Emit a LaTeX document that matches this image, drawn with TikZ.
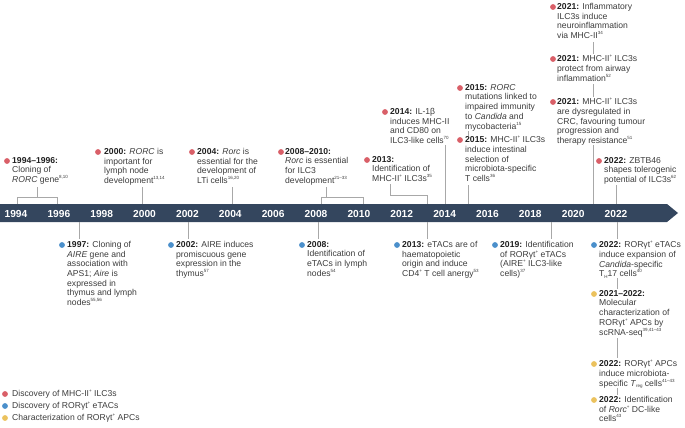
\documentclass[tikz,border=0pt]{standalone}
\usepackage{fontspec}
\setmainfont{Liberation Sans}
\definecolor{barc}{HTML}{34465E}
\definecolor{redd}{HTML}{D95F68}
\definecolor{blued}{HTML}{4A8FCB}
\definecolor{yeld}{HTML}{EBC25E}
\definecolor{linec}{HTML}{A8A8A8}
\definecolor{txtc}{HTML}{3C3C3C}
\definecolor{yrc}{HTML}{202020}
\newcommand{\rf}[1]{\raisebox{0.85ex}{\fontsize{4.5}{5}\selectfont #1}}
\newcommand{\rb}[1]{\raisebox{-0.35ex}{\fontsize{4.5}{5}\selectfont #1}}
\newcommand{\yr}[1]{\textbf{\color{yrc}#1}}
\begin{document}
\begin{tikzpicture}[x=1pt,y=-1pt,
  txt/.style={anchor=north west, inner sep=0pt, align=left, font=\fontsize{8.6}{9.7}\selectfont, text=txtc},
  legtxt/.style={anchor=west, inner sep=0pt, font=\fontsize{8.6}{9.7}\selectfont, text=txtc},
  yearlab/.style={font=\fontsize{10.2}{11}\selectfont\bfseries, text=white, inner sep=0pt},
  rdot/.style={circle, fill=redd, inner sep=0pt, minimum size=5.8pt},
  bdot/.style={circle, fill=blued, inner sep=0pt, minimum size=5.8pt},
  ydot/.style={circle, fill=yeld, inner sep=0pt, minimum size=5.8pt},
  conn/.style={draw=linec, line width=0.6pt}]
\useasboundingbox (0,0) rectangle (685,428);
% timeline bar
\fill[barc] (0,204) -- (667,204) -- (678,213) -- (667,222) -- (0,222) -- cycle;
\foreach \k/\y in {0/1994,1/1996,2/1998,3/2000,4/2002,5/2004,6/2006,7/2008,8/2010,9/2012,10/2014,11/2016,12/2018,13/2020,14/2022}
  \node[yearlab] (y\y) at ({16+42.86*\k},213.5) {\y};

% ---------- top (red) ----------
\node[rdot] (dA) at (7,161) {};
\node[txt] (tA) at (12,157) {\yr{1994–1996:}\\Cloning of\\\textit{RORC} gene\rf{8,10}};
\node[rdot] (dB) at (98,152) {};
\node[txt] (tB) at (104,148) {\yr{2000:} \textit{RORC} is\\important for\\lymph node\\development\rf{13,14}};
\node[rdot] (dC) at (192,152) {};
\node[txt] (tC) at (197,148) {\yr{2004:} \textit{Rorc} is\\essential for the\\development of\\LTi cells\rf{16,20}};
\node[rdot] (dD) at (281,152) {};
\node[txt] (tD) at (285,148) {\yr{2008–2010:}\\\textit{Rorc} is essential\\for ILC3\\development\rf{21–33}};
\node[rdot] (dE) at (367,160) {};
\node[txt] (tE) at (372,156) {\yr{2013:}\\Identification of\\MHC-II\rf{+} ILC3s\rf{35}};
\node[rdot] (dF) at (385,112) {};
\node[txt] (tF) at (390,108) {\yr{2014:} IL-1β\\induces MHC-II\\and CD80 on\\ILC3-like cells\rf{70}};
\node[rdot] (dG) at (460,88) {};
\node[txt] (tG) at (465,84) {\yr{2015:} \textit{RORC}\\mutations linked to\\impaired immunity\\to \textit{Candida} and\\mycobacteria\rf{15}};
\node[rdot] (dH) at (460,140) {};
\node[txt] (tH) at (465,136) {\yr{2015:} MHC-II\rf{+} ILC3s\\induce intestinal\\selection of\\microbiota-specific\\T cells\rf{36}};
\node[rdot] (dI) at (553,7) {};
\node[txt] (tI) at (557,3) {\yr{2021:} Inflammatory\\ILC3s induce\\neuroinflammation\\via MHC-II\rf{34}};
\node[rdot] (dJ) at (553,59) {};
\node[txt] (tJ) at (557,55) {\yr{2021:} MHC-II\rf{+} ILC3s\\protect from airway\\inflammation\rf{52}};
\node[rdot] (dK) at (553,102) {};
\node[txt] (tK) at (557,98) {\yr{2021:} MHC-II\rf{+} ILC3s\\are dysregulated in\\CRC, favouring tumour\\progression and\\therapy resistance\rf{51}};
\node[rdot] (dL) at (599,161) {};
\node[txt] (tL) at (604,157) {\yr{2022:} ZBTB46\\shapes tolerogenic\\potential of ILC3s\rf{62}};

% ---------- bottom (blue) ----------
\node[bdot] (dM) at (62,245) {};
\node[txt] (tM) at (67,241) {\yr{1997:} Cloning of\\\textit{AIRE} gene and\\association with\\APS1; \textit{Aire} is\\expressed in\\thymus and lymph\\nodes\rf{55,56}};
\node[bdot] (dN) at (171,245) {};
\node[txt] (tN) at (176,241) {\yr{2002:} AIRE induces\\promiscuous gene\\expression in the\\thymus\rf{57}};
\node[bdot] (dO) at (302,245) {};
\node[txt] (tO) at (307,241) {\yr{2008:}\\Identification of\\eTACs in lymph\\nodes\rf{54}};
\node[bdot] (dP) at (397,245) {};
\node[txt] (tP) at (402,241) {\yr{2013:} eTACs are of\\haematopoietic\\origin and induce\\CD4\rf{+} T cell anergy\rf{53}};
\node[bdot] (dQ) at (495,245) {};
\node[txt] (tQ) at (500,241) {\yr{2019:} Identification\\of RORγt\rf{+} eTACs\\(AIRE\rf{+} ILC3-like\\cells)\rf{37}};
\node[bdot] (dR) at (594,245) {};
\node[txt] (tR) at (599,241) {\yr{2022:} RORγt\rf{+} eTACs\\induce expansion of\\\textit{Candida}-specific\\T\rb{H}17 cells\rf{40}};
% yellow
\node[ydot] (dS) at (594,294) {};
\node[txt] (tS) at (599,290) {\yr{2021–2022:}\\Molecular\\characterization of\\RORγt\rf{+} APCs by\\scRNA-seq\rf{39,41–43}};
\node[ydot] (dT) at (594,364) {};
\node[txt] (tT) at (599,360) {\yr{2022:} RORγt\rf{+} APCs\\induce microbiota-\\specific \textit{T}\rb{reg} cells\rf{41–43}};
\node[ydot] (dU) at (594,400) {};
\node[txt] (tU) at (599,396) {\yr{2022:} Identification\\of \textit{Rorc}\rf{+} DC-like\\cells\rf{43}};

% ---------- legend ----------
\node[rdot] (lr) at (5,394) {};
\node[legtxt] (lrt) at (12,394) {Discovery of MHC-II\rf{+} ILC3s};
\node[bdot] (lb) at (5,406) {};
\node[legtxt] (lbt) at (12,406) {Discovery of RORγt\rf{+} eTACs};
\node[ydot] (ly) at (5,418) {};
\node[legtxt] (lyt) at (12,418) {Characterization of RORγt\rf{+} APCs};

% ---------- connector coordinates ----------
\coordinate (a1) at (37,187);  \coordinate (a2) at (37,197);
\coordinate (a3) at (17,204);  \coordinate (a4) at (17,197);
\coordinate (a5) at (57,197);  \coordinate (a6) at (57,204);
\coordinate (b1) at (142,187); \coordinate (b2) at (142,204);
\coordinate (c1) at (232,187); \coordinate (c2) at (232,204);
\coordinate (d1) at (326,187); \coordinate (d2) at (326,197);
\coordinate (d3) at (321,204); \coordinate (d4) at (321,197);
\coordinate (d5) at (363,197); \coordinate (d6) at (363,204);
\coordinate (e1) at (390,184); \coordinate (e2) at (390,195);
\coordinate (e3) at (427,195); \coordinate (e4) at (427,204);
\coordinate (f1) at (445,145); \coordinate (f2) at (445,204);
\coordinate (g1) at (468,131); \coordinate (g2) at (468,136);
\coordinate (h1) at (468,185); \coordinate (h2) at (468,204);
\coordinate (i1) at (593,42);  \coordinate (i2) at (593,54);
\coordinate (j1) at (593,84);  \coordinate (j2) at (593,97);
\coordinate (k1) at (593,145); \coordinate (k2) at (593,204);
\coordinate (l1) at (616,185); \coordinate (l2) at (616,204);
\coordinate (m1) at (79,222);  \coordinate (m2) at (79,239);
\coordinate (n1) at (188,222); \coordinate (n2) at (188,239);
\coordinate (o1) at (318,222); \coordinate (o2) at (318,239);
\coordinate (p1) at (427,222); \coordinate (p2) at (427,239);
\coordinate (q1) at (551,222); \coordinate (q2) at (551,239);
\coordinate (r1) at (617,222); \coordinate (r2) at (617,239);
\coordinate (r3) at (617,278); \coordinate (r4) at (617,289);
\coordinate (s1) at (617,338); \coordinate (s2) at (617,358);
\coordinate (t1) at (617,388); \coordinate (t2) at (617,395);

\draw[conn] (a1) -- (a2);
\draw[conn] (a3) -- (a4) -- (a5) -- (a6);
\draw[conn] (b1) -- (b2);
\draw[conn] (c1) -- (c2);
\draw[conn] (d1) -- (d2);
\draw[conn] (d3) -- (d4) -- (d5) -- (d6);
\draw[conn] (e1) -- (e2) -- (e3) -- (e4);
\draw[conn] (f1) -- (f2);
\draw[conn] (g1) -- (g2);
\draw[conn] (h1) -- (h2);
\draw[conn] (i1) -- (i2);
\draw[conn] (j1) -- (j2);
\draw[conn] (k1) -- (k2);
\draw[conn] (l1) -- (l2);
\draw[conn] (m1) -- (m2);
\draw[conn] (n1) -- (n2);
\draw[conn] (o1) -- (o2);
\draw[conn] (p1) -- (p2);
\draw[conn] (q1) -- (q2);
\draw[conn] (r1) -- (r2);
\draw[conn] (r3) -- (r4);
\draw[conn] (s1) -- (s2);
\draw[conn] (t1) -- (t2);
\end{tikzpicture}
\end{document}
